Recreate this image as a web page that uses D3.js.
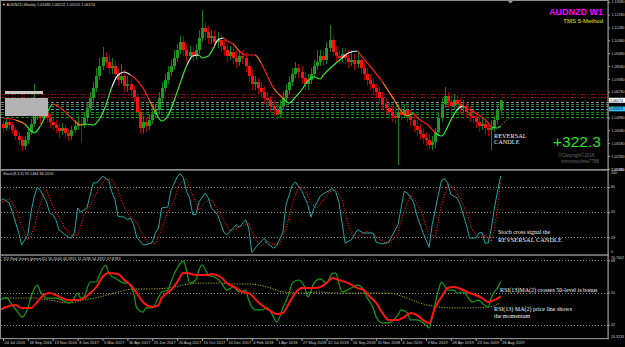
<!DOCTYPE html>
<html><head><meta charset="utf-8">
<script src="https://cdnjs.cloudflare.com/ajax/libs/d3/7.8.5/d3.min.js"></script>
<style>html,body{margin:0;padding:0;background:#000;overflow:hidden}svg{display:block}</style>
</head><body><svg id="chart" width="625" height="347"></svg>
<script>
// ---------------- DATA ----------------
const closes = [
1.0424,1.0466,1.0445,1.0410,1.0368,1.0340,1.0298,1.0340,1.0396,1.0452,
1.0508,1.0536,1.0494,1.0529,1.0494,1.0466,1.0445,1.0424,1.0403,1.0424,
1.0389,1.0368,1.0410,1.0438,1.0452,1.0445,1.0494,1.0564,1.0634,1.0704,
1.0788,1.0858,1.0921,1.0886,1.0844,1.0858,1.0802,1.0760,1.0788,1.0718,
1.0732,1.0690,1.0641,1.0536,1.0424,1.0466,1.0438,1.0480,1.0522,1.0550,
1.0634,1.0704,1.0760,1.0816,1.0858,1.0914,1.0970,1.1026,1.0970,1.0928,
1.0956,1.0928,1.0970,1.1054,1.1124,1.1096,1.1054,1.1068,1.1026,1.1040,
1.0998,1.0970,1.0928,1.0956,1.0914,1.0886,1.0928,1.0914,1.0858,1.0788,
1.0732,1.0746,1.0704,1.0676,1.0634,1.0620,1.0578,1.0550,1.0522,1.0578,
1.0634,1.0690,1.0746,1.0802,1.0844,1.0816,1.0774,1.0732,1.0760,1.0802,
1.0858,1.0886,1.0928,1.0900,1.0984,1.1040,1.0956,1.0928,1.0914,1.0942,
1.0914,1.0886,1.0900,1.0872,1.0900,1.0844,1.0802,1.0760,1.0732,1.0704,
1.0676,1.0634,1.0592,1.0564,1.0536,1.0508,1.0494,1.0536,1.0515,1.0550,
1.0508,1.0480,1.0438,1.0410,1.0382,1.0354,1.0340,1.0305,1.0326,1.0396,
1.0494,1.0592,1.0648,1.0606,1.0578,1.0620,1.0592,1.0564,1.0578,1.0536,
1.0508,1.0494,1.0466,1.0438,1.0452,1.0424,1.0410,1.0424,1.0480,1.0548,
1.06174];
const opens = [
1.0452,1.0424,1.0466,1.0445,1.0410,1.0368,1.0340,1.0298,1.0340,1.0396,
1.0452,1.0508,1.0536,1.0494,1.0529,1.0494,1.0466,1.0445,1.0424,1.0403,
1.0424,1.0389,1.0368,1.0410,1.0438,1.0452,1.0445,1.0494,1.0564,1.0634,
1.0704,1.0788,1.0858,1.0921,1.0886,1.0844,1.0858,1.0802,1.0760,1.0788,
1.0718,1.0732,1.0690,1.0641,1.0536,1.0424,1.0466,1.0438,1.0480,1.0522,
1.0550,1.0634,1.0704,1.0760,1.0816,1.0858,1.0914,1.0970,1.1026,1.0970,
1.0928,1.0956,1.0928,1.0970,1.1054,1.1124,1.1096,1.1054,1.1068,1.1026,
1.1040,1.0998,1.0970,1.0928,1.0956,1.0914,1.0886,1.0928,1.0914,1.0858,
1.0788,1.0732,1.0746,1.0704,1.0676,1.0634,1.0620,1.0578,1.0550,1.0522,
1.0578,1.0634,1.0690,1.0746,1.0802,1.0844,1.0816,1.0774,1.0732,1.0760,
1.0802,1.0858,1.0886,1.0928,1.0900,1.0984,1.1040,1.0956,1.0928,1.0914,
1.0942,1.0914,1.0886,1.0900,1.0872,1.0900,1.0844,1.0802,1.0760,1.0732,
1.0704,1.0676,1.0634,1.0592,1.0564,1.0536,1.0508,1.0494,1.0536,1.0515,
1.0550,1.0508,1.0480,1.0438,1.0410,1.0382,1.0354,1.0340,1.0305,1.0326,
1.0396,1.0494,1.0592,1.0648,1.0606,1.0578,1.0620,1.0592,1.0564,1.0578,
1.0536,1.0508,1.0494,1.0466,1.0438,1.0452,1.0424,1.0410,1.0424,1.0480,
1.0548];
const highs = [
1.0480,1.0501,1.0487,1.0466,1.0431,1.0396,1.0361,1.0368,1.0424,1.0487,
1.0732,1.0578,1.0564,1.0557,1.0550,1.0522,1.0494,1.0480,1.0452,1.0459,
1.0452,1.0417,1.0438,1.0480,1.0508,1.0487,1.0536,1.0606,1.0676,1.0746,
1.0844,1.0914,1.0991,1.0956,1.0935,1.0914,1.0900,1.0844,1.0872,1.0830,
1.0788,1.0774,1.0718,1.0662,1.0564,1.0508,1.0501,1.0522,1.0564,1.0592,
1.0676,1.0746,1.0802,1.0858,1.0900,1.0970,1.1012,1.1068,1.1068,1.1012,
1.0998,1.0998,1.1012,1.1110,1.1250,1.1166,1.1138,1.1110,1.1110,1.1096,
1.1082,1.1040,1.1012,1.0998,1.0998,1.0970,1.0970,1.0970,1.0956,1.0886,
1.0830,1.0788,1.0774,1.0746,1.0718,1.0676,1.0648,1.0620,1.0592,1.0620,
1.0676,1.0732,1.0788,1.0844,1.0886,1.0872,1.0858,1.0816,1.0802,1.0844,
1.0900,1.0970,1.0970,1.0970,1.1026,1.1145,1.1068,1.0998,1.0970,1.0984,
1.0984,1.0970,1.0970,1.0942,1.0956,1.0942,1.0886,1.0844,1.0802,1.0774,
1.0732,1.0718,1.0676,1.0634,1.0606,1.0578,1.0564,1.0592,1.0578,1.0592,
1.0578,1.0550,1.0522,1.0480,1.0452,1.0424,1.0396,1.0382,1.0368,1.0424,
1.0536,1.0634,1.0711,1.0676,1.0648,1.0662,1.0648,1.0634,1.0620,1.0606,
1.0578,1.0550,1.0536,1.0508,1.0494,1.0494,1.0466,1.0480,1.0508,1.0592,
1.06222];
const lows = [
1.0389,1.0403,1.0417,1.0382,1.0340,1.0305,1.0263,1.0270,1.0312,1.0375,
1.0431,1.0480,1.0452,1.0466,1.0459,1.0424,1.0410,1.0389,1.0354,1.0375,
1.0354,1.0333,1.0340,1.0389,1.0410,1.0319,1.0424,1.0466,1.0536,1.0606,
1.0676,1.0760,1.0830,1.0844,1.0802,1.0802,1.0760,1.0718,1.0732,1.0676,
1.0676,1.0648,1.0606,1.0508,1.0382,1.0382,1.0396,1.0410,1.0452,1.0494,
1.0522,1.0606,1.0676,1.0732,1.0788,1.0830,1.0886,1.0942,1.0928,1.0886,
1.0900,1.0886,1.0900,1.0942,1.1026,1.1040,1.1012,1.1012,1.0984,1.0984,
1.0956,1.0928,1.0886,1.0900,1.0872,1.0844,1.0858,1.0872,1.0816,1.0746,
1.0690,1.0690,1.0662,1.0634,1.0592,1.0578,1.0536,1.0508,1.0480,1.0494,
1.0550,1.0606,1.0662,1.0718,1.0774,1.0774,1.0732,1.0690,1.0690,1.0732,
1.0774,1.0830,1.0858,1.0858,1.0872,1.0956,1.0928,1.0886,1.0872,1.0886,
1.0872,1.0844,1.0858,1.0830,1.0844,1.0802,1.0760,1.0718,1.0690,1.0662,
1.0634,1.0592,1.0550,1.0522,1.0494,1.0466,1.0452,1.0165,1.0480,1.0494,
1.0466,1.0438,1.0396,1.0368,1.0340,1.0312,1.0298,1.0270,1.0270,1.0284,
1.0368,1.0466,1.0564,1.0564,1.0536,1.0550,1.0550,1.0522,1.0536,1.0494,
1.0466,1.0452,1.0424,1.0396,1.0410,1.0375,1.0368,1.0270,1.0396,1.0452,
1.05155];

const dateIdx = [0,8,16,24,32,40,48,56,64,72,80,88,96,104,112,120,128,136,144,152,160];
const dateLabels = ["24 Jul 2016","18 Sep 2016","13 Nov 2016","8 Jan 2017","5 Mar 2017","30 Apr 2017","25 Jun 2017","20 Aug 2017","15 Oct 2017","10 Dec 2017","4 Feb 2018","1 Apr 2018","27 May 2018","22 Jul 2018","16 Sep 2018","11 Nov 2018","6 Jan 2019","3 Mar 2019","28 Apr 2019","23 Jun 2019","18 Aug 2019"];

const priceTicks = [1.13080,1.12180,1.11280,1.10380,1.09480,1.08580,1.07680,1.06780,1.04980,1.04080,1.03180,1.02280,1.01380];
const lastClose = 1.06174;
const cyanLevel = 1.05573;

// horizontal level lines on price chart
const levels = [1.0659,1.0643,1.0606,1.0592,1.0575,1.0557,1.0538,1.0522,1.0503];
const levelKinds = ["r","r","w","g2","g2","c","g","g","g"];

// coloured moving average: bar index, value, state (u=up green, d=down red, w=top white, o=turn orange)
const maIdx = [0,4,7,9,10,12,14,16,17,20,23,25,27,29,31,33,35,37,39,41,43,45,47,49,51,53,55,57,59,61,63,64,66,68,69,71,72,74,76,78,81,83,85,87,90,92,94,96,98,100,102,103,106,109,111,114,115,118,122,126,128,130,132,133,137,139,141,144,146,148,149,153,156,157,159,160];
const maVal = [1.0494,1.0480,1.0452,1.0403,1.0389,1.0438,1.0522,1.0592,1.0585,1.0536,1.0473,1.0445,1.0452,1.0445,1.0487,1.0578,1.0711,1.0795,1.0816,1.0795,1.0760,1.0704,1.0620,1.0536,1.0473,1.0508,1.0613,1.0739,1.0858,1.0928,1.0935,1.0914,1.0928,1.0998,1.1040,1.1054,1.1033,1.1012,1.0963,1.0935,1.0935,1.0879,1.0788,1.0704,1.0634,1.0599,1.0641,1.0690,1.0753,1.0781,1.0767,1.0795,1.0858,1.0914,1.0949,1.0963,1.0935,1.0858,1.0746,1.0613,1.0543,1.0508,1.0529,1.0501,1.0438,1.0389,1.0368,1.0480,1.0550,1.0578,1.0564,1.0515,1.0459,1.0431,1.0424,1.0438];
const maState = ["d","d","o","u","u","u","u","u","d","d","d","o","u","u","u","u","u","w","w","w","d","d","d","o","u","u","u","u","u","w","w","u","u","u","w","w","d","d","o","d","d","o","d","d","o","u","u","u","u","u","u","u","u","u","w","w","d","d","d","o","o","o","u","d","d","d","u","u","u","w","d","d","d","d","u","u"];
const maProjIdx = [160,163];
const maProjVal = [1.0438,1.0501];

// Stochastic (8,3,3)
const stochMain = [[-1,63],[0,66],[2,61],[3,50],[5,26],[6,11],[8,23],[9,50],[10,68],[11,80],[12,76],[14,62],[15,49],[16,47],[17,41],[18,29],[19,26],[21,20],[22,19],[23,26],[24,55],[25,50],[27,55],[29,85],[30,85],[31,88],[32,93],[34,88],[35,74],[36,65],[37,45],[39,44],[40,41],[41,43],[42,35],[43,20],[45,11],[46,11],[48,14],[49,25],[50,31],[51,55],[53,56],[54,76],[56,92],[57,96],[58,91],[59,75],[60,67],[61,47],[62,47],[63,62],[65,73],[66,67],[67,55],[69,47],[71,26],[72,23],[74,31],[75,35],[76,32],[78,41],[79,31],[80,2],[82,11],[84,19],[85,13],[87,7],[88,10],[90,26],[91,59],[93,82],[94,86],[96,76],[98,59],[99,44],[100,55],[102,69],[103,72],[104,74],[106,78],[107,74],[108,62],[109,38],[110,13],[112,17],[114,29],[116,25],[119,25],[120,14],[122,12],[124,14],[127,35],[129,75],[130,73],[132,62],[133,47],[135,26],[137,8],[138,35],[140,71],[141,88],[142,90],[143,85],[144,71],[146,67],[147,59],[149,35],[150,19],[152,19],[153,25],[154,26],[155,13],[156,13],[157,30],[158,55],[159,74],[160,93.1484]];
const stochSignal = [[-1,60],[0,62],[2,66],[4,55],[6,33],[8,17],[10,30],[11,48],[13,72],[14,76],[16,58],[18,44],[20,30],[22,22],[24,23],[26,46],[27,52],[29,65],[31,80],[33,90],[35,89],[37,76],[39,55],[41,44],[43,38],[45,22],[47,12],[49,13],[51,30],[53,50],[55,65],[57,85],[59,90],[61,70],[63,53],[65,62],[67,65],[69,53],[71,40],[73,28],[75,30],[77,34],[79,36],[81,18],[83,10],[85,15],[87,11],[89,12],[91,30],[93,60],[95,80],[97,78],[99,60],[101,55],[103,65],[105,74],[107,77],[109,65],[111,35],[113,18],[115,23],[117,27],[119,24],[121,18],[123,13],[125,16],[127,25],[129,52],[131,70],[133,62],[135,45],[137,22],[139,22],[141,58],[143,84],[145,78],[147,66],[149,50],[151,28],[153,20],[155,22],[157,15],[158,28],[159,55],[160,86.2016]];
const stochLevels = [80,50,20];
const stochLabels = [100,80,50,20,0];

// TDI / RSI pane
const rsiGreen = [[-1,45.8],[1,47.2],[3,43.0],[5,38.5],[6,36.3],[8,41.4],[9,47.5],[11,54.2],[12,50.5],[14,46.9],[17,46.9],[19,45.8],[21,44.2],[22,44.7],[24,49.7],[25,46.9],[26,47.5],[28,55.9],[30,55.9],[31,59.8],[33,65.4],[34,60.9],[37,57.0],[39,55.3],[40,55.3],[42,49.7],[43,41.4],[45,39.1],[46,41.4],[48,41.4],[50,47.5],[51,50.3],[53,51.4],[54,55.9],[56,63.7],[58,67.6],[59,62.6],[60,55.3],[62,57.0],[63,62.6],[64,65.4],[66,59.8],[68,58.7],[70,55.9],[72,51.4],[74,53.1],[76,50.3],[78,51.4],[79,45.8],[81,40.3],[83,40.3],[85,41.4],[87,36.3],[88,33.5],[90,41.4],[92,49.7],[93,55.3],[95,57.0],[97,53.1],[98,47.5],[100,55.3],[102,57.6],[104,55.3],[106,60.9],[107,60.9],[108,55.3],[109,50.3],[112,52.5],[114,54.2],[116,51.4],[117,47.5],[119,41.4],[120,36.3],[122,33.0],[124,33.0],[127,37.5],[128,40.3],[130,38.6],[131,34.7],[133,34.7],[136,31.9],[137,30.2],[138,36.3],[140,51.4],[141,55.9],[143,51.4],[145,51.4],[146,49.7],[148,50.3],[149,48.6],[151,44.7],[153,45.8],[154,44.2],[156,41.9],[157,47.0],[158,50.5],[159,52.5],[160,56.2]];
const rsiRed = [[-1,40.3],[1,41.9],[4,43.0],[6,41.4],[9,41.4],[11,44.7],[13,48.6],[15,49.7],[17,48.6],[19,46.9],[21,45.8],[24,45.8],[26,46.9],[28,49.7],[30,53.1],[32,58.7],[34,60.9],[37,60.4],[39,57.0],[41,54.2],[43,49.7],[45,44.7],[48,41.9],[50,43.0],[51,46.9],[54,51.4],[56,55.9],[58,60.9],[59,60.9],[62,59.8],[66,59.8],[67,60.4],[70,58.7],[72,55.3],[75,52.5],[77,50.3],[79,49.7],[82,44.7],[84,41.9],[86,39.7],[88,38.0],[90,38.6],[92,44.2],[94,49.7],[96,52.5],[100,52.5],[102,53.1],[104,55.3],[106,58.1],[108,57.0],[111,55.3],[114,52.5],[116,51.4],[118,47.5],[120,44.2],[122,38.6],[124,34.7],[127,34.7],[129,36.3],[131,38.6],[133,37.5],[135,34.7],[137,33.0],[139,41.9],[141,47.5],[143,52.5],[145,53.1],[148,51.4],[150,49.7],[152,48.6],[154,46.9],[156,44.7],[158,45.8],[160,47.9]];
const rsiBase = [[-1,46.9],[5,46.9],[10,46.9],[15,45.8],[21,44.2],[26,45.8],[31,47.5],[37,50.3],[42,52.0],[47,52.0],[53,52.5],[58,54.2],[63,55.3],[69,55.3],[74,54.8],[79,54.8],[85,53.1],[90,50.3],[96,49.7],[101,50.3],[107,49.7],[113,49.7],[118,49.7],[124,49.7],[129,47.5],[134,44.2],[140,41.9],[145,41.4],[150,41.4],[156,41.9],[160,44.2]];
const rsiLevels = [68,50,32];
const rsiLabels = ["70.7002","68","50","32","24.3233"];
const rsiLabelVals = [70.7002,68,50,32,24.3233];

// ---------------- DRAWING ----------------
const W = 625, H = 347, AX = 608;
const svg = d3.select('#chart');
const defs = svg.append('defs');
const mk = (id,x,y,w,h)=>defs.append('clipPath').attr('id',id).append('rect').attr('x',x).attr('y',y).attr('width',w).attr('height',h);
mk('cMain',1,1,AX-1,168);
mk('cSto',1,170.7,AX-1,83.6);
mk('cRsi',1,255.8,AX-1,82.2);

svg.append('rect').attr('width',W).attr('height',H).attr('fill','#000');

const x = d3.scaleLinear().domain([0,160]).range([3,500.6]);
const yP = d3.scaleLinear().domain([1.1320,1.0137]).range([0,169]);
const yS = d3.scaleLinear().domain([0,100]).range([254,170.3]);
const yR = d3.scaleLinear().domain([24.32,70.70]).range([338.5,255.5]);
const SANS = "'Liberation Sans', Arial, sans-serif";
const SERIF = "'Liberation Serif', 'Times New Roman', serif";

// ---- main pane ----
const gM = svg.append('g').attr('clip-path','url(#cMain)');
const lvlColor = {r:'#8a0a0a', w:'#8c8c8c', g2:'#3f7f3f', c:'#36b4c8', g:'#129412'};
gM.selectAll('line.lvl').data(levels).join('line')
  .attr('x1',1).attr('x2',AX)
  .attr('y1',d=>Math.round(yP(d))+0.5).attr('y2',d=>Math.round(yP(d))+0.5)
  .attr('stroke',(d,k)=>lvlColor[levelKinds[k]]).attr('stroke-width',1)
  .attr('stroke-dasharray',(d,k)=>levelKinds[k]==='r'?'5,2,1,2':'3,2');

const bars = closes.map((c,i)=>({i,o:opens[i],h:highs[i],l:lows[i],c}));
const bx = i=>Math.round(x(i));
gM.selectAll('line.wick').data(bars).join('line')
  .attr('x1',d=>bx(d.i)+0.5).attr('x2',d=>bx(d.i)+0.5)
  .attr('y1',d=>yP(d.h)).attr('y2',d=>yP(d.l))
  .attr('stroke',d=>d.c>=d.o?'#0f7d0f':'#a30000').attr('stroke-width',1);
gM.selectAll('rect.body').data(bars).join('rect')
  .attr('x',d=>bx(d.i)-1).attr('width',3)
  .attr('y',d=>yP(Math.max(d.o,d.c)))
  .attr('height',d=>Math.max(1,Math.abs(yP(d.o)-yP(d.c))))
  .attr('fill',d=>d.c>=d.o?'#1c9c1c':'#ff1010');

// coloured MA: one smooth path, drawn once per segment with an x-range clip
const maCol = {u:'#33ee33', d:'#ff1a1a', w:'#d2f4f6', o:'#ff7f00'};
const maPts = maIdx.map((v,k)=>[v,maVal[k]]);
const lineP = d3.line().x(d=>x(d[0])).y(d=>yP(d[1])).curve(d3.curveMonotoneX);
const maD = lineP(maPts);
for(let k=1;k<maIdx.length;k++){
  const x0 = x(maIdx[k-1]), x1 = x(maIdx[k]);
  defs.append('clipPath').attr('id','maSeg'+k).append('rect')
    .attr('x',x0).attr('y',0).attr('width',x1-x0+0.05).attr('height',170);
  gM.append('path').attr('d',maD).attr('clip-path',`url(#maSeg${k})`)
    .attr('fill','none').attr('stroke',maCol[maState[k]]).attr('stroke-width',1.2);
}
gM.append('path').attr('d',d3.line().x(d=>x(d[0])).y(d=>yP(d[1]))(maProjIdx.map((v,k)=>[v,maProjVal[k]])))
  .attr('fill','none').attr('stroke','#b8a820').attr('stroke-width',1).attr('stroke-dasharray','1,1.5');

// grey info box on left
gM.append('rect').attr('x',5).attr('y',91).attr('width',38).attr('height',3).attr('fill','#c6c6c6');
gM.append('rect').attr('x',5).attr('y',98).attr('width',43).attr('height',18).attr('fill','#b2b2b2');

// header + texts main
svg.append('text').attr('x',2).attr('y',6).attr('font-family',SANS).attr('font-size',3.8).attr('fill','#d8d8d8')
  .text('\u25BC AUDNZD,Weekly  1.05480 1.06222 1.05155 1.06174');
svg.append('path').attr('d','M508,1 L513,1 L510.5,3.5 Z').attr('fill','#9a9a9a');
svg.append('text').attr('x',549).attr('y',15).attr('font-family',SANS).attr('font-weight','bold')
  .attr('font-size',9).attr('fill','#ff00ff').text('AUDNZD W1');
svg.append('text').attr('x',603).attr('y',23).attr('text-anchor','end').attr('font-family',SANS)
  .attr('font-size',6).attr('fill','#e6e600').text('TMS 5-Method');
svg.append('text').attr('x',553).attr('y',146.7).attr('font-family',SANS).attr('font-size',15.5).attr('fill','#2fe02f').text('+322.3');
svg.append('text').attr('x',558).attr('y',156.5).attr('font-family',SANS).attr('font-size',4.6).attr('fill','#6a6a6a').text('\u00A9Copyright\u00A92016');
svg.append('text').attr('x',561).attr('y',162.5).attr('font-family',SANS).attr('font-size',4.6).attr('fill','#6a6a6a').text('mrmoneytime7788');
svg.append('text').attr('x',494).attr('y',137.8).attr('font-family',SERIF).attr('font-size',6.3).attr('fill','#f2f2f2').text('REVERSAL');
svg.append('text').attr('x',494).attr('y',144.4).attr('font-family',SERIF).attr('font-size',6.3).attr('fill','#f2f2f2').text('CANDLE');

// ---- stochastic pane ----
const gS = svg.append('g').attr('clip-path','url(#cSto)');
gS.selectAll('line.lv').data(stochLevels).join('line').attr('x1',1).attr('x2',AX)
  .attr('y1',d=>Math.round(yS(d))+0.5).attr('y2',d=>Math.round(yS(d))+0.5)
  .attr('stroke','#8a8a8a').attr('stroke-dasharray','1,2');
const lineS = d3.line().x(d=>x(d[0])).y(d=>yS(d[1]));
gS.append('path').attr('d',lineS(stochSignal)).attr('fill','none').attr('stroke','#ff1a1a').attr('stroke-width',1.1).attr('stroke-dasharray','1,1.6');
gS.append('path').attr('d',lineS(stochMain)).attr('fill','none').attr('stroke','#1fa6a6').attr('stroke-width',1);
svg.append('text').attr('x',3).attr('y',175).attr('font-family',SANS).attr('font-size',3.8).attr('fill','#d8d8d8').text('Stoch(8,3,3) 93.1484 86.2016');
svg.append('text').attr('x',498).attr('y',233.6).attr('font-family',SERIF).attr('font-size',6).attr('fill','#f2f2f2').text('Stoch cross signal the');
svg.append('text').attr('x',498).attr('y',241.5).attr('font-family',SERIF).attr('font-size',6.4).attr('fill','#f2f2f2').text('REVSERSAL CANDLE');

// ---- TDI pane ----
const gR = svg.append('g').attr('clip-path','url(#cRsi)');
gR.selectAll('line.lv').data(rsiLevels).join('line').attr('x1',1).attr('x2',AX)
  .attr('y1',d=>Math.round(yR(d))+0.5).attr('y2',d=>Math.round(yR(d))+0.5)
  .attr('stroke','#8a8a8a').attr('stroke-dasharray','1,2');
const lineR = d3.line().x(d=>x(d[0])).y(d=>yR(d[1])).curve(d3.curveMonotoneX);
gR.append('path').attr('d',lineR(rsiBase)).attr('fill','none').attr('stroke','#b4b000').attr('stroke-width',1).attr('stroke-dasharray','1.2,1.4');
gR.append('path').attr('d',lineR(rsiGreen)).attr('fill','none').attr('stroke','#14a014').attr('stroke-width',1.2);
gR.append('path').attr('d',lineR(rsiRed)).attr('fill','none').attr('stroke','#ff1414').attr('stroke-width',2);
svg.append('text').attr('x',3).attr('y',260).attr('font-family',SANS).attr('font-size',3.8).attr('fill','#d8d8d8')
  .text('TDI Red Green (pmsm15) 56.2004 44.0951 11.2096 54.3372 47.8783');
svg.append('text').attr('x',500).attr('y',291.6).attr('font-family',SERIF).attr('font-size',6).attr('fill','#f2f2f2').text('RSI(13)MA(2) crosses 50-level is bonus');
svg.append('text').attr('x',494).attr('y',311.3).attr('font-family',SERIF).attr('font-size',6).attr('fill','#f2f2f2').text('RSI(13) MA(2) price line shows');
svg.append('text').attr('x',494).attr('y',317.8).attr('font-family',SERIF).attr('font-size',6).attr('fill','#f2f2f2').text('the momentum');

// ---- frames / separators ----
svg.append('rect').attr('x',0).attr('y',0).attr('width',AX).attr('height',1).attr('fill','#8c8c8c');
svg.append('rect').attr('x',0).attr('y',0).attr('width',1).attr('height',339).attr('fill','#8c8c8c');
svg.append('rect').attr('x',0).attr('y',169).attr('width',AX+1).attr('height',1.7).attr('fill','#8c8c8c');
svg.append('rect').attr('x',0).attr('y',254.3).attr('width',AX+1).attr('height',1.5).attr('fill','#8c8c8c');
svg.append('rect').attr('x',0).attr('y',338).attr('width',AX+1).attr('height',1.2).attr('fill','#8c8c8c');
svg.append('rect').attr('x',AX-0.5).attr('y',0).attr('width',1.2).attr('height',339).attr('fill','#a0a0a0');

// ---- axes ----
const styleAxis = g=>{ g.select('.domain').remove(); g.selectAll('line').attr('stroke','#a0a0a0');
  g.selectAll('text').attr('font-family',SANS).attr('fill','#d0d0d0'); };
const aP = svg.append('g').attr('transform',`translate(${AX},0)`)
  .call(d3.axisRight(yP).tickValues(priceTicks).tickFormat(d3.format('.5f')).tickSize(2).tickPadding(1.5));
styleAxis(aP); aP.selectAll('text').attr('font-size',3.6);

// current price & cyan level tags
svg.append('rect').attr('x',AX+1).attr('y',yP(lastClose)-2.6).attr('width',16).attr('height',5).attr('fill','#ffffff');
svg.append('text').attr('x',AX+2).attr('y',yP(lastClose)+1.2).attr('font-family',SANS).attr('font-size',3.6).attr('fill','#000').text(d3.format('.5f')(lastClose));
svg.append('rect').attr('x',AX+1).attr('y',yP(cyanLevel)-2.4).attr('width',16).attr('height',4.8).attr('fill','#35c0f0');
svg.append('text').attr('x',AX+2).attr('y',yP(cyanLevel)+1.2).attr('font-family',SANS).attr('font-size',3.6).attr('fill','#000').text(d3.format('.5f')(cyanLevel));

const aS = svg.append('g').attr('transform',`translate(${AX},0)`)
  .call(d3.axisRight(yS).tickValues(stochLevels).tickFormat('').tickSize(2));
styleAxis(aS);
svg.selectAll('text.sl').data(stochLabels).join('text').attr('class','sl')
  .attr('x',AX+3).attr('y',d=>Math.min(Math.max(yS(d),173),251.5)).attr('dy','0.35em')
  .attr('font-family',SANS).attr('font-size',3.6).attr('fill','#d0d0d0').text(d=>d);

const aR = svg.append('g').attr('transform',`translate(${AX},0)`)
  .call(d3.axisRight(yR).tickValues(rsiLevels).tickFormat('').tickSize(2));
styleAxis(aR);
svg.selectAll('text.rl').data(rsiLabelVals).join('text').attr('class','rl')
  .attr('x',AX+3).attr('y',d=>Math.min(Math.max(yR(d),257.8),336.8)).attr('dy',(d,k)=>k===1?'0.6em':'0.35em')
  .attr('font-family',SANS).attr('font-size',3.6).attr('fill','#d0d0d0').text((d,k)=>rsiLabels[k]);
svg.append('text').attr('x',AX+3).attr('y',169.5).attr('dy','0.35em').attr('font-family',SANS).attr('font-size',3.6).attr('fill','#d0d0d0').text('1.01480');

const aD = svg.append('g').attr('transform','translate(0,338.5)')
  .call(d3.axisBottom(x).tickValues(dateIdx).tickFormat((d,k)=>dateLabels[k]).tickSize(2.5));
styleAxis(aD);
aD.selectAll('text').attr('font-size',4).attr('text-anchor','start').attr('x',1).attr('y',2.3).attr('dy','0.71em');
</script></body></html>
